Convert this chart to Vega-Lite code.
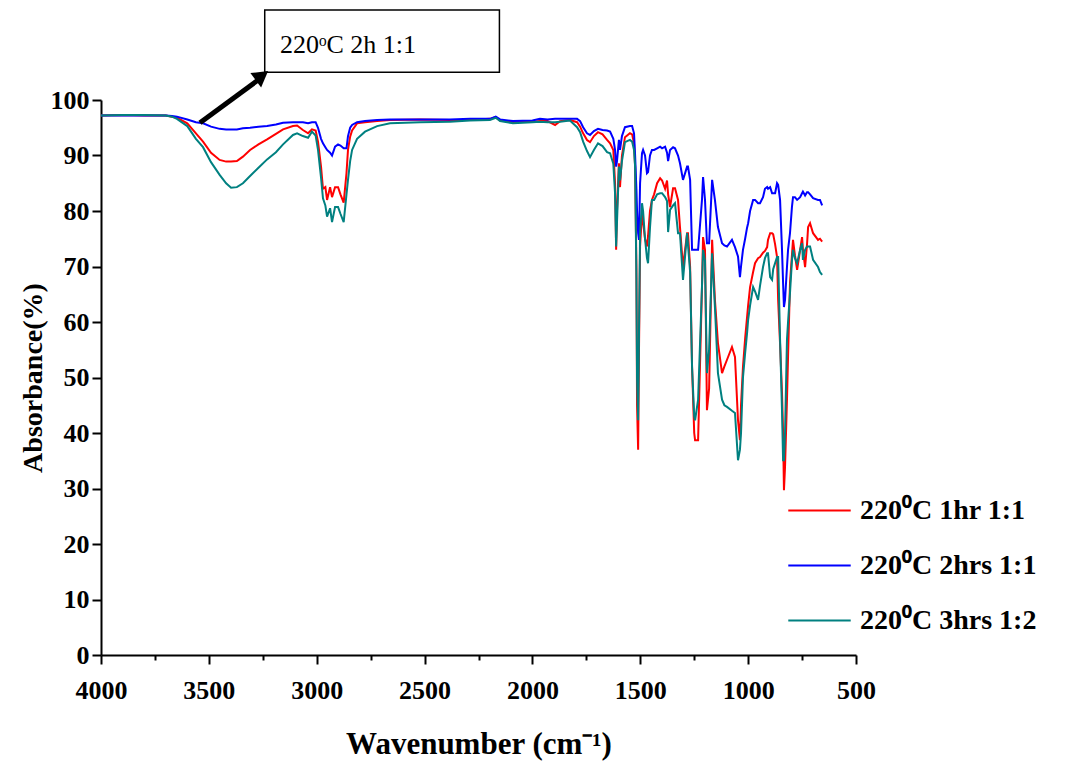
{
  "$schema": "https://vega.github.io/schema/vega-lite/v6.json",
  "width": 755,
  "height": 555,
  "autosize": {"type": "none"},
  "padding": {"left": 101, "top": 100, "right": 217, "bottom": 116},
  "background": "white",
  "config": {"view": {"stroke": null}, "font": "Liberation Serif"},
  "datasets": {
    "spectra": [
      {"w": 4000, "r": 97.2, "b": 97.2, "t": 97.2},
      {"w": 3900, "r": 97.3, "b": 97.2, "t": 97.3},
      {"w": 3800, "r": 97.2, "b": 97.2, "t": 97.3},
      {"w": 3700, "r": 97.2, "b": 97.2, "t": 97.2},
      {"w": 3671, "r": 97.0, "b": 97.1, "t": 97.0},
      {"w": 3648, "r": 96.8, "b": 97.0, "t": 96.6},
      {"w": 3600, "r": 95.8, "b": 96.5, "t": 95.3},
      {"w": 3560, "r": 94.0, "b": 96.0, "t": 93.0},
      {"w": 3527, "r": 92.5, "b": 95.8, "t": 91.5},
      {"w": 3490, "r": 90.5, "b": 95.2, "t": 88.8},
      {"w": 3450, "r": 89.2, "b": 94.8, "t": 86.5},
      {"w": 3420, "r": 88.9, "b": 94.7, "t": 85.0},
      {"w": 3397, "r": 88.9, "b": 94.7, "t": 84.2},
      {"w": 3370, "r": 89.0, "b": 94.7, "t": 84.3},
      {"w": 3342, "r": 89.8, "b": 94.9, "t": 85.0},
      {"w": 3309, "r": 91.0, "b": 95.0, "t": 86.3},
      {"w": 3270, "r": 92.0, "b": 95.2, "t": 87.8},
      {"w": 3230, "r": 92.9, "b": 95.3, "t": 89.3},
      {"w": 3189, "r": 93.9, "b": 95.6, "t": 90.6},
      {"w": 3156, "r": 94.7, "b": 95.9, "t": 92.0},
      {"w": 3110, "r": 95.3, "b": 96.0, "t": 93.7},
      {"w": 3091, "r": 95.4, "b": 96.0, "t": 94.0},
      {"w": 3064, "r": 94.6, "b": 96.0, "t": 93.5},
      {"w": 3040, "r": 94.0, "b": 95.8, "t": 93.2},
      {"w": 3022, "r": 94.7, "b": 96.0, "t": 94.3},
      {"w": 3005, "r": 94.5, "b": 96.0, "t": 93.6},
      {"w": 2994, "r": 92.5, "b": 95.0, "t": 91.0},
      {"w": 2980, "r": 88.0, "b": 93.0, "t": 86.0},
      {"w": 2971, "r": 84.0, "b": 92.2, "t": 82.3},
      {"w": 2960, "r": 84.3, "b": 91.5, "t": 81.0},
      {"w": 2952, "r": 82.0, "b": 91.0, "t": 79.0},
      {"w": 2938, "r": 84.3, "b": 90.5, "t": 80.5},
      {"w": 2929, "r": 82.5, "b": 90.0, "t": 78.0},
      {"w": 2915, "r": 84.3, "b": 91.6, "t": 80.7},
      {"w": 2901, "r": 84.3, "b": 92.0, "t": 80.7},
      {"w": 2890, "r": 83.0, "b": 91.8, "t": 79.5},
      {"w": 2875, "r": 81.5, "b": 91.3, "t": 78.0},
      {"w": 2862, "r": 86.8, "b": 91.3, "t": 83.0},
      {"w": 2855, "r": 91.0, "b": 93.5, "t": 85.6},
      {"w": 2845, "r": 93.4, "b": 95.0, "t": 89.0},
      {"w": 2836, "r": 94.5, "b": 95.5, "t": 91.0},
      {"w": 2813, "r": 95.8, "b": 96.0, "t": 93.0},
      {"w": 2776, "r": 96.0, "b": 96.2, "t": 94.3},
      {"w": 2720, "r": 96.2, "b": 96.4, "t": 95.3},
      {"w": 2660, "r": 96.4, "b": 96.5, "t": 95.8},
      {"w": 2521, "r": 96.5, "b": 96.5, "t": 96.0},
      {"w": 2382, "r": 96.4, "b": 96.5, "t": 96.1},
      {"w": 2289, "r": 96.4, "b": 96.6, "t": 96.3},
      {"w": 2197, "r": 96.6, "b": 96.6, "t": 96.4},
      {"w": 2170, "r": 96.9, "b": 97.0, "t": 96.8},
      {"w": 2150, "r": 96.3, "b": 96.5, "t": 96.2},
      {"w": 2090, "r": 96.0, "b": 96.2, "t": 95.8},
      {"w": 2000, "r": 96.1, "b": 96.3, "t": 96.0},
      {"w": 1965, "r": 96.2, "b": 96.6, "t": 96.1},
      {"w": 1930, "r": 96.2, "b": 96.5, "t": 96.0},
      {"w": 1895, "r": 95.5, "b": 96.6, "t": 96.0},
      {"w": 1872, "r": 96.2, "b": 96.6, "t": 96.1},
      {"w": 1826, "r": 96.4, "b": 96.6, "t": 96.3},
      {"w": 1793, "r": 96.0, "b": 96.6, "t": 95.1},
      {"w": 1779, "r": 95.2, "b": 96.2, "t": 94.2},
      {"w": 1765, "r": 94.0, "b": 95.1, "t": 92.5},
      {"w": 1747, "r": 92.8, "b": 94.0, "t": 90.8},
      {"w": 1733, "r": 92.4, "b": 93.7, "t": 89.7},
      {"w": 1715, "r": 93.5, "b": 94.4, "t": 91.0},
      {"w": 1696, "r": 94.2, "b": 94.8, "t": 92.2},
      {"w": 1675, "r": 93.8, "b": 94.6, "t": 91.7},
      {"w": 1654, "r": 92.8, "b": 94.5, "t": 90.6},
      {"w": 1640, "r": 92.2, "b": 94.3, "t": 90.4},
      {"w": 1625, "r": 91.0, "b": 93.0, "t": 88.5},
      {"w": 1617, "r": 85.0, "b": 91.0, "t": 83.2},
      {"w": 1612, "r": 73.0, "b": 88.0, "t": 73.6},
      {"w": 1608, "r": 80.0, "b": 89.0, "t": 78.0},
      {"w": 1599, "r": 88.6, "b": 92.8, "t": 88.0},
      {"w": 1594, "r": 84.3, "b": 91.0, "t": 85.5},
      {"w": 1585, "r": 90.0, "b": 93.5, "t": 89.0},
      {"w": 1571, "r": 93.3, "b": 95.1, "t": 92.4},
      {"w": 1548, "r": 94.0, "b": 95.3, "t": 92.8},
      {"w": 1538, "r": 93.8, "b": 95.3, "t": 92.5},
      {"w": 1529, "r": 92.2, "b": 94.0, "t": 91.0},
      {"w": 1524, "r": 88.0, "b": 90.0, "t": 88.0},
      {"w": 1518, "r": 70.0, "b": 84.0, "t": 68.0},
      {"w": 1515, "r": 45.0, "b": 80.0, "t": 50.0},
      {"w": 1510, "r": 37.0, "b": 76.0, "t": 42.3},
      {"w": 1506, "r": 55.0, "b": 74.8, "t": 58.0},
      {"w": 1501, "r": 73.6, "b": 85.0, "t": 76.0},
      {"w": 1492, "r": 79.6, "b": 90.4, "t": 81.4},
      {"w": 1487, "r": 78.0, "b": 91.0, "t": 80.0},
      {"w": 1478, "r": 75.0, "b": 90.0, "t": 75.0},
      {"w": 1469, "r": 73.6, "b": 86.8, "t": 71.5},
      {"w": 1464, "r": 75.5, "b": 87.0, "t": 70.6},
      {"w": 1455, "r": 80.0, "b": 90.0, "t": 77.0},
      {"w": 1446, "r": 82.0, "b": 91.0, "t": 82.0},
      {"w": 1436, "r": 83.0, "b": 91.0, "t": 82.0},
      {"w": 1422, "r": 85.0, "b": 91.3, "t": 83.0},
      {"w": 1408, "r": 85.9, "b": 91.6, "t": 83.2},
      {"w": 1399, "r": 85.5, "b": 91.3, "t": 83.2},
      {"w": 1385, "r": 84.0, "b": 91.6, "t": 82.5},
      {"w": 1376, "r": 85.5, "b": 90.5, "t": 81.8},
      {"w": 1371, "r": 83.0, "b": 89.0, "t": 76.2},
      {"w": 1362, "r": 80.7, "b": 91.0, "t": 80.2},
      {"w": 1348, "r": 84.1, "b": 91.5, "t": 81.0},
      {"w": 1339, "r": 84.1, "b": 91.3, "t": 81.4},
      {"w": 1325, "r": 82.0, "b": 90.0, "t": 76.0},
      {"w": 1316, "r": 77.1, "b": 88.6, "t": 76.0},
      {"w": 1302, "r": 69.9, "b": 85.6, "t": 67.6},
      {"w": 1283, "r": 76.0, "b": 88.0, "t": 76.0},
      {"w": 1279, "r": 76.0, "b": 88.0, "t": 74.0},
      {"w": 1269, "r": 69.9, "b": 85.6, "t": 69.0},
      {"w": 1260, "r": 51.9, "b": 73.0, "t": 51.9},
      {"w": 1250, "r": 40.0, "b": 73.0, "t": 43.0},
      {"w": 1246, "r": 38.7, "b": 73.0, "t": 42.3},
      {"w": 1232, "r": 38.7, "b": 73.0, "t": 46.0},
      {"w": 1214, "r": 66.3, "b": 82.0, "t": 66.3},
      {"w": 1209, "r": 75.3, "b": 86.1, "t": 73.0},
      {"w": 1200, "r": 73.0, "b": 82.0, "t": 71.0},
      {"w": 1191, "r": 44.1, "b": 74.2, "t": 50.8},
      {"w": 1181, "r": 48.0, "b": 74.2, "t": 55.0},
      {"w": 1167, "r": 74.8, "b": 85.6, "t": 72.4},
      {"w": 1154, "r": 64.0, "b": 82.0, "t": 62.7},
      {"w": 1140, "r": 56.2, "b": 77.1, "t": 50.8},
      {"w": 1121, "r": 50.8, "b": 74.2, "t": 46.0},
      {"w": 1110, "r": 52.0, "b": 73.8, "t": 45.0},
      {"w": 1098, "r": 53.2, "b": 73.6, "t": 44.7},
      {"w": 1075, "r": 55.5, "b": 74.8, "t": 44.0},
      {"w": 1061, "r": 53.7, "b": 73.5, "t": 43.6},
      {"w": 1047, "r": 42.3, "b": 71.8, "t": 35.1},
      {"w": 1038, "r": 38.7, "b": 68.1, "t": 37.0},
      {"w": 1033, "r": 45.0, "b": 70.0, "t": 40.0},
      {"w": 1024, "r": 51.9, "b": 73.0, "t": 50.0},
      {"w": 1014, "r": 57.0, "b": 75.0, "t": 54.4},
      {"w": 1005, "r": 60.9, "b": 77.0, "t": 58.0},
      {"w": 1000, "r": 63.0, "b": 77.8, "t": 60.4},
      {"w": 991, "r": 66.3, "b": 80.0, "t": 63.0},
      {"w": 977, "r": 69.0, "b": 82.0, "t": 66.3},
      {"w": 968, "r": 70.6, "b": 82.0, "t": 65.5},
      {"w": 954, "r": 71.5, "b": 81.4, "t": 64.0},
      {"w": 945, "r": 71.7, "b": 81.4, "t": 66.5},
      {"w": 931, "r": 72.5, "b": 82.5, "t": 69.9},
      {"w": 922, "r": 72.8, "b": 84.0, "t": 71.5},
      {"w": 912, "r": 73.5, "b": 84.3, "t": 72.4},
      {"w": 908, "r": 74.8, "b": 84.0, "t": 72.4},
      {"w": 898, "r": 76.0, "b": 84.3, "t": 68.1},
      {"w": 889, "r": 76.0, "b": 83.2, "t": 67.6},
      {"w": 884, "r": 75.8, "b": 83.2, "t": 69.5},
      {"w": 875, "r": 74.0, "b": 83.2, "t": 70.6},
      {"w": 866, "r": 71.7, "b": 85.0, "t": 71.7},
      {"w": 861, "r": 64.0, "b": 84.7, "t": 71.7},
      {"w": 852, "r": 56.0, "b": 82.0, "t": 56.8},
      {"w": 843, "r": 47.2, "b": 73.0, "t": 44.0},
      {"w": 838, "r": 40.0, "b": 67.0, "t": 35.1},
      {"w": 834, "r": 29.7, "b": 62.7, "t": 35.1},
      {"w": 829, "r": 33.9, "b": 64.0, "t": 40.0},
      {"w": 820, "r": 46.0, "b": 69.9, "t": 56.8},
      {"w": 815, "r": 53.7, "b": 73.0, "t": 60.0},
      {"w": 806, "r": 67.0, "b": 76.0, "t": 65.2},
      {"w": 797, "r": 72.0, "b": 80.7, "t": 71.0},
      {"w": 792, "r": 74.8, "b": 82.5, "t": 73.0},
      {"w": 783, "r": 72.0, "b": 82.5, "t": 71.5},
      {"w": 773, "r": 69.4, "b": 82.0, "t": 70.6},
      {"w": 759, "r": 73.0, "b": 82.5, "t": 73.0},
      {"w": 750, "r": 75.3, "b": 83.2, "t": 74.2},
      {"w": 746, "r": 73.0, "b": 83.5, "t": 71.2},
      {"w": 736, "r": 69.9, "b": 82.8, "t": 73.0},
      {"w": 727, "r": 74.0, "b": 83.4, "t": 73.6},
      {"w": 722, "r": 77.1, "b": 83.4, "t": 73.6},
      {"w": 713, "r": 77.8, "b": 83.0, "t": 73.6},
      {"w": 699, "r": 76.0, "b": 82.3, "t": 71.2},
      {"w": 676, "r": 74.8, "b": 82.0, "t": 69.9},
      {"w": 667, "r": 75.0, "b": 82.0, "t": 69.0},
      {"w": 657, "r": 74.5, "b": 81.0, "t": 68.5}
    ],
    "note": [
      {"x1": 3241, "x2": 2153, "y1": 116.2, "y2": 105.0, "tx": 3170, "ty": 110.0, "label": "220ᵒC 2h 1:1",
       "ax1": 3541, "ay1": 95.9, "ax2": 3272, "ay2": 103.6, "hx": 3254, "hy": 104.4}
    ]
  },
  "layer": [
    {
      "data": {"name": "spectra"},
      "transform": [{"fold": ["r", "b", "t"], "as": ["series", "value"]}],
      "mark": {"type": "line", "strokeWidth": 2, "interpolate": "linear"},
      "encoding": {
        "x": {
          "field": "w", "type": "quantitative",
          "scale": {"domain": [500, 4000], "reverse": true, "nice": false, "zero": false},
          "axis": {
            "values": [4000, 3750, 3500, 3250, 3000, 2750, 2500, 2250, 2000, 1750, 1500, 1250, 1000, 750, 500],
            "labelExpr": "datum.value % 500 === 0 ? datum.label : ''",
            "format": "d",
            "grid": false,
            "domainColor": "black", "domainWidth": 2,
            "tickColor": "black", "tickWidth": 2,
            "tickSize": {"condition": {"test": "datum.value % 500 !== 0", "value": 5}, "value": 9},
            "labelFont": "Liberation Serif", "labelFontWeight": "bold", "labelFontSize": 26, "labelColor": "black",
            "labelPadding": 13, "labelFlush": false, "labelOverlap": false,
            "title": "Wavenumber (cm⁻¹)",
            "titleFont": "Liberation Serif", "titleFontWeight": "bold", "titleFontSize": 31, "titleColor": "black",
            "titlePadding": 26
          }
        },
        "y": {
          "field": "value", "type": "quantitative",
          "scale": {"domain": [0, 100], "nice": false},
          "axis": {
            "values": [0, 5, 10, 15, 20, 25, 30, 35, 40, 45, 50, 55, 60, 65, 70, 75, 80, 85, 90, 95, 100],
            "labelExpr": "datum.value % 10 === 0 ? datum.label : ''",
            "grid": false,
            "domainColor": "black", "domainWidth": 2,
            "tickColor": "black", "tickWidth": 2,
            "tickSize": {"condition": {"test": "datum.value % 10 !== 0", "value": 5}, "value": 9},
            "labelFont": "Liberation Serif", "labelFontWeight": "bold", "labelFontSize": 26, "labelColor": "black",
            "labelPadding": 3, "labelOverlap": false, "labelFlush": false,
            "title": "Absorbance(%)",
            "titleFont": "Liberation Serif", "titleFontWeight": "bold", "titleFontSize": 28, "titleColor": "black",
            "titlePadding": 3
          }
        },
        "color": {
          "field": "series", "type": "nominal",
          "scale": {"domain": ["r", "b", "t"], "range": ["#ff0000", "#0000ff", "#008080"]},
          "sort": ["r", "b", "t"],
          "legend": {
            "title": null,
            "orient": "none", "legendX": 686, "legendY": 378,
            "direction": "vertical",
            "symbolType": "stroke", "symbolSize": 3900, "symbolStrokeWidth": 2,
            "labelExpr": "datum.label == 'r' ? '220⁰C 1hr  1:1' : datum.label == 'b' ? '220⁰C 2hrs 1:1' : '220⁰C 3hrs 1:2'",
            "labelFont": "Liberation Serif", "labelFontWeight": "bold", "labelFontSize": 28, "labelColor": "black",
            "labelOffset": 8, "rowPadding": 8, "labelLimit": 300
          }
        }
      }
    },
    {
      "data": {"name": "note"},
      "mark": {"type": "rect", "fill": "white", "stroke": "black", "strokeWidth": 1.5},
      "encoding": {
        "x": {"field": "x1", "type": "quantitative"},
        "x2": {"field": "x2"},
        "y": {"field": "y1", "type": "quantitative"},
        "y2": {"field": "y2"}
      }
    },
    {
      "data": {"name": "note"},
      "mark": {"type": "text", "font": "Liberation Serif", "fontSize": 26, "align": "left", "baseline": "middle", "color": "black"},
      "encoding": {
        "x": {"field": "tx", "type": "quantitative"},
        "y": {"field": "ty", "type": "quantitative"},
        "text": {"field": "label"}
      }
    },
    {
      "data": {"name": "note"},
      "mark": {"type": "rule", "strokeWidth": 5, "color": "black"},
      "encoding": {
        "x": {"field": "ax1", "type": "quantitative"},
        "y": {"field": "ay1", "type": "quantitative"},
        "x2": {"field": "ax2"},
        "y2": {"field": "ay2"}
      }
    },
    {
      "data": {"name": "note"},
      "mark": {"type": "point", "shape": "triangle-up", "filled": true, "size": 320, "angle": 53, "color": "black", "opacity": 1},
      "encoding": {
        "x": {"field": "hx", "type": "quantitative"},
        "y": {"field": "hy", "type": "quantitative"}
      }
    }
  ]
}
